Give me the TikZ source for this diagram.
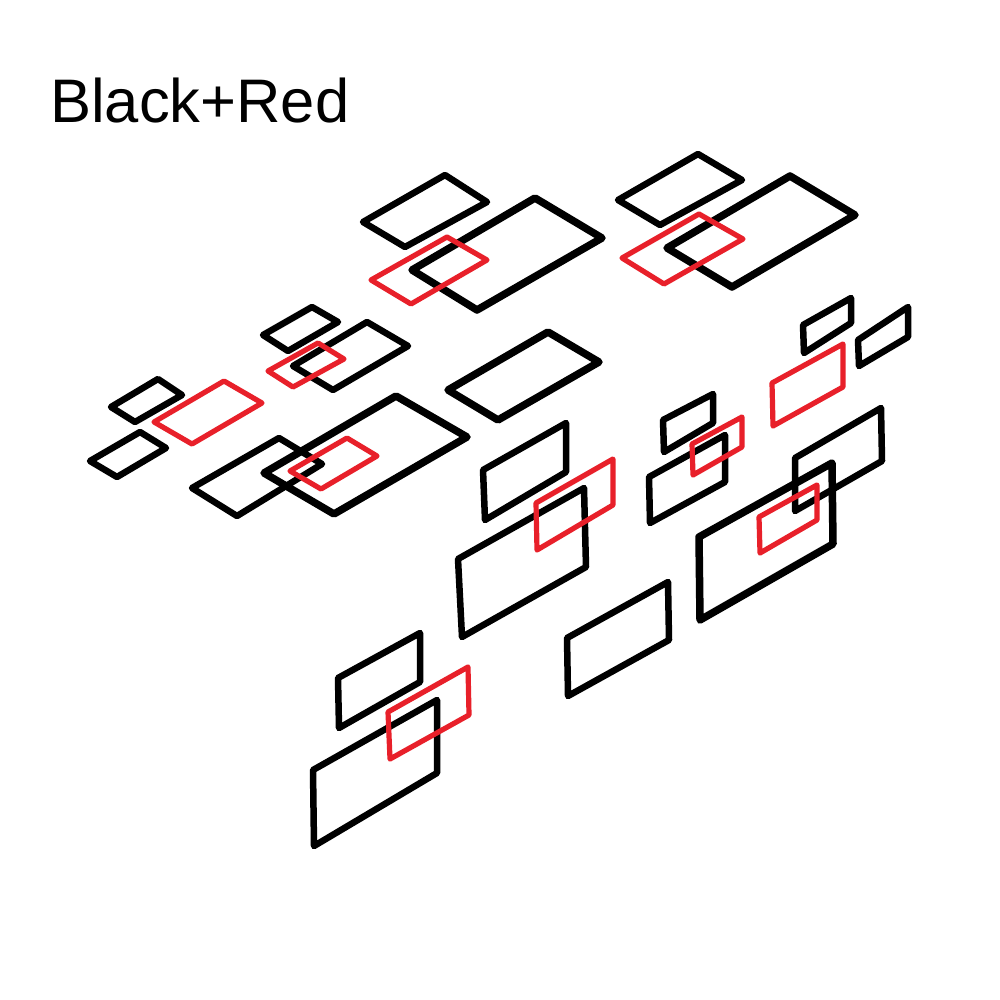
\documentclass[tikz,border=0pt]{standalone}
\usepackage{fontspec}
\setmainfont{Liberation Sans}
\definecolor{myred}{RGB}{232,32,42}
\tikzset{
  blk/.style={draw=black, line width=6.5pt, line join=round, line cap=round},
  blkthick/.style={draw=black, line width=7.5pt, line join=round, line cap=round},
  rd/.style={draw=myred, line width=5.2pt, line join=round, line cap=round}
}
\begin{document}
\begin{tikzpicture}[x=1pt,y=-1pt]
\useasboundingbox[fill=white] (0,0) rectangle (1000,1000);
\node[anchor=base west, inner sep=0pt, font=\fontsize{61.5}{64}\selectfont] (title) at (50,123) {Black+Red};
% top group 1
\draw[blk] (363,222) -- (445,175) -- (487,202) -- (405,247) -- cycle;
\draw[blkthick] (412,270) -- (535,198) -- (602,238) -- (477,310) -- cycle;
\draw[rd] (371,280) -- (447,237) -- (487,260) -- (411,304) -- cycle;
% top group 2
\draw[blk] (618,200) -- (698,154) -- (742,180) -- (660,225) -- cycle;
\draw[blkthick] (667,248) -- (790,176) -- (855,215) -- (732,287) -- cycle;
\draw[rd] (622,258) -- (699,214) -- (743,239) -- (664,284) -- cycle;
% middle left
\draw[blk] (263,335) -- (312,307) -- (338,322) -- (288,351) -- cycle;
\draw[blk] (293,366) -- (367,322) -- (408,346) -- (333,390) -- cycle;
\draw[rd] (268,371) -- (318,343) -- (344,359) -- (293,387) -- cycle;
\draw[blk] (111,407) -- (158,379) -- (182,395) -- (135,422) -- cycle;
\draw[blk] (90,461) -- (140,432) -- (166,448) -- (117,477) -- cycle;
\draw[rd] (154,422) -- (224,381) -- (262,403) -- (192,444) -- cycle;
\draw[blk] (192,488) -- (279,438) -- (322,464) -- (237,516) -- cycle;
\draw[blkthick] (264,473) -- (396,396) -- (467,437) -- (334,514) -- cycle;
\draw[rd] (290,471) -- (347,438) -- (377,456) -- (321,489) -- cycle;
% middle
\draw[blkthick] (448,390) -- (548,332) -- (599,362) -- (498,420) -- cycle;
\draw[blk] (483,470) -- (566,423) -- (566,472) -- (485,520) -- cycle;
\draw[blk] (458,559) -- (584,488) -- (586,567) -- (462,637) -- cycle;
\draw[rd] (536,503) -- (613,459) -- (613,505) -- (537,550) -- cycle;
% right
\draw[blk] (803,325) -- (851,298) -- (851,323) -- (804,353) -- cycle;
\draw[blk] (858,340) -- (908,307) -- (908,337) -- (859,366) -- cycle;
\draw[rd] (772,383) -- (843,344) -- (843,387) -- (773,426) -- cycle;
\draw[blk] (663,420) -- (713,394) -- (713,423) -- (664,452) -- cycle;
\draw[blk] (649,477) -- (725,435) -- (725,482) -- (650,523) -- cycle;
\draw[rd] (692,444) -- (742,417) -- (742,447) -- (693,475) -- cycle;
\draw[blk] (795,458) -- (881,408) -- (882,461) -- (795,511) -- cycle;
\draw[blkthick] (699,537) -- (832,463) -- (833,544) -- (700,620) -- cycle;
\draw[rd] (759,517) -- (817,485) -- (817,520) -- (760,553) -- cycle;
% bottom
\draw[blk] (567,638) -- (668,582) -- (669,640) -- (568,696) -- cycle;
\draw[blk] (338,678) -- (420,633) -- (420,682) -- (339,728) -- cycle;
\draw[blk] (313,770) -- (437,700) -- (437,773) -- (314,846) -- cycle;
\draw[rd] (388,712) -- (468,667) -- (469,715) -- (390,759) -- cycle;
\end{tikzpicture}
\end{document}
